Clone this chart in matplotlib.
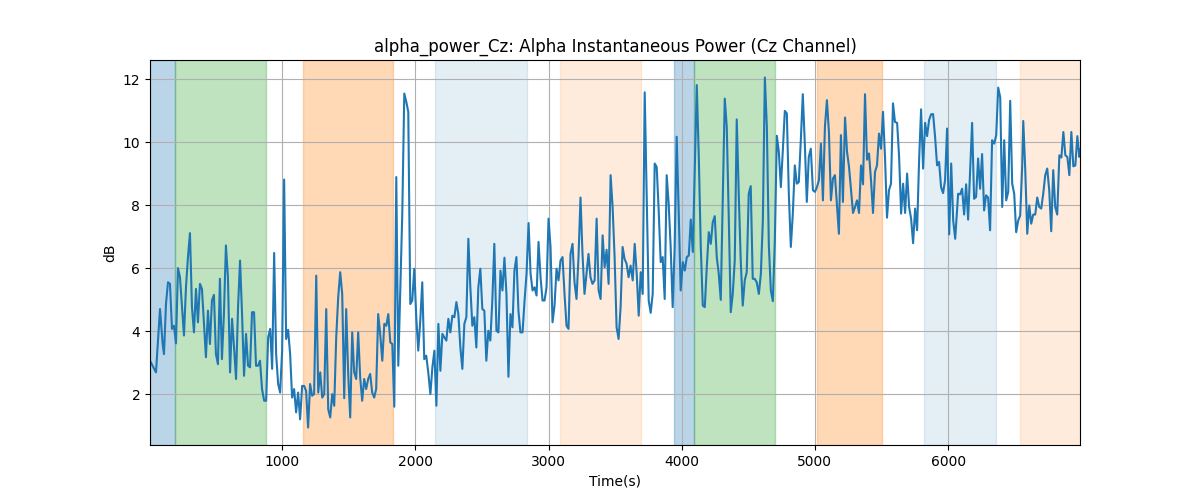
import matplotlib
matplotlib.use("Agg")
import matplotlib.pyplot as plt

#########################################################
# Data
#########################################################

t = [8, 53, 83, 103, 113, 128, 143, 158, 173, 188, 203, 218, 233, 248, 263, 278, 293, 308, 323, 338,
     353, 368, 383, 398, 413, 428, 443, 458, 473, 488, 503, 518, 533, 548, 563, 578, 593, 609, 624, 639,
     654, 669, 684, 699, 714, 729, 744, 759, 774, 789, 804, 819, 834, 849, 865,
     880, 895, 910, 925, 940, 955, 970, 985, 1000, 1015, 1030, 1045, 1060, 1075, 1090, 1105, 1120, 1135, 1150,
     1165, 1180, 1195, 1210, 1225, 1240, 1256, 1271, 1286, 1301, 1316, 1331, 1346, 1361, 1376, 1391, 1406,
     1421, 1436, 1451, 1466, 1481, 1496, 1511, 1526, 1541, 1556, 1571, 1586, 1601, 1616, 1631, 1646, 1661,
     1676, 1691, 1706, 1721, 1736,
     1752, 1767, 1782, 1797, 1812, 1827, 1842, 1857, 1872, 1887, 1902, 1917, 1932, 1947, 1962, 1977, 1992,
     2007, 2022, 2037, 2052, 2067, 2082, 2097, 2113, 2128, 2143, 2158, 2173, 2188, 2203, 2218, 2233, 2248,
     2263, 2278, 2293, 2308, 2323, 2338, 2353, 2368, 2383, 2398, 2413, 2428, 2443, 2458, 2473, 2488, 2503,
     2518, 2533, 2548, 2563, 2578, 2593,
     2609, 2624, 2639, 2654, 2669, 2684, 2699, 2714, 2729, 2744, 2759, 2774, 2789, 2805, 2820, 2835, 2850,
     2865, 2880, 2895, 2910, 2925, 2940, 2955, 2970, 2985, 3000, 3015, 3030, 3045, 3060, 3075, 3090, 3105,
     3120, 3135, 3150, 3165, 3180, 3195, 3210, 3225, 3240, 3255, 3270, 3285, 3300, 3315, 3330, 3346, 3361,
     3376, 3391, 3406, 3421, 3436, 3451,
     3466, 3481, 3496, 3511, 3526, 3541, 3556, 3571, 3586, 3601, 3616, 3632, 3647, 3662, 3677, 3692, 3707,
     3722, 3737, 3752, 3767, 3782, 3797, 3812, 3827, 3842, 3857, 3872, 3887, 3902, 3917, 3932, 3947, 3962,
     3977, 3992, 4008, 4023, 4038, 4053, 4068, 4083, 4098, 4113, 4128, 4143, 4158, 4173, 4188, 4203, 4218,
     4233, 4248, 4263, 4278, 4293, 4308, 4323, 4338, 4353,
     4368, 4383, 4398, 4413, 4428, 4443, 4458, 4473, 4488, 4503, 4518, 4533, 4548, 4563, 4579, 4594, 4609,
     4624, 4639, 4654, 4669, 4684, 4699, 4714, 4729, 4744, 4759, 4774, 4789, 4804, 4819, 4834, 4849, 4864,
     4879, 4894, 4909, 4924, 4939, 4954, 4969, 4985, 5000, 5015, 5030, 5045, 5060, 5075, 5090, 5105, 5120,
     5135, 5150, 5165, 5180,
     5195, 5210, 5226, 5241, 5256, 5271, 5286, 5301, 5316, 5331, 5346, 5361, 5376, 5391, 5406, 5421, 5436,
     5451, 5466, 5481, 5496, 5511, 5526, 5541, 5556, 5571, 5586, 5601, 5617, 5632, 5647, 5662, 5677, 5692,
     5707, 5722, 5737, 5752, 5767, 5782, 5797, 5812, 5827, 5842, 5857, 5872, 5887, 5902, 5917, 5932, 5947,
     5962, 5977, 5992, 6008, 6023, 6038, 6053,
     6075, 6090, 6105, 6120, 6135, 6150, 6165, 6180, 6195, 6210, 6225, 6240, 6255, 6270, 6285, 6300, 6315,
     6330, 6346, 6361, 6376, 6391, 6406, 6421, 6436, 6451, 6466, 6481, 6496, 6511, 6526, 6541, 6556, 6564,
     6579, 6594, 6609, 6624, 6639, 6654, 6669, 6684, 6699, 6714, 6729, 6744, 6759, 6774, 6789, 6804, 6819,
     6835, 6850, 6865, 6880, 6895, 6910, 6925, 6940, 6955, 6970, 6985, 6990]

db = [3.06, 2.69, 4.70, 3.59, 3.27, 4.86, 5.55, 5.50, 4.07, 4.17, 3.61, 6.00, 5.71, 4.76, 3.86, 5.39, 6.35, 7.11, 4.76, 3.96,
      5.34, 4.28, 5.50, 5.34, 4.23, 3.17, 4.65, 3.59, 4.97, 5.15, 3.27, 2.95, 5.66, 3.11, 4.54, 6.72, 5.71, 2.69, 4.39, 3.48,
      2.48, 4.76, 6.24, 4.54, 2.58, 3.91, 2.90, 2.85, 4.60, 4.60, 2.90, 2.90, 3.06, 2.16, 1.79,
      1.79, 3.80, 4.07, 2.80, 6.48, 3.27, 2.32, 2.05, 3.38, 8.81, 3.75, 4.04, 3.27, 1.89, 2.16, 1.42, 2.05, 1.20, 2.26,
      2.26, 2.10, 0.94, 2.32, 1.95, 2.00, 5.76, 2.05, 2.69, 1.89, 2.00, 4.70, 1.52, 1.26, 2.00, 1.63, 3.80,
      5.08, 5.87, 5.18, 1.87, 4.70, 2.64, 1.26, 3.96, 2.69, 2.48, 3.96, 2.53, 1.79, 2.48, 2.16, 2.48, 2.64,
      2.05, 1.89, 2.16, 4.54, 3.91,
      3.06, 4.23, 4.17, 4.54, 3.64, 3.59, 1.60, 8.89, 2.90, 5.29, 7.73, 11.54, 11.28, 10.96, 4.86, 4.97, 5.98,
      4.44, 3.38, 4.33, 5.55, 3.11, 3.22, 2.69, 2.00, 2.85, 3.38, 1.63, 4.23, 2.74, 3.91, 3.80, 3.70, 4.39,
      3.96, 4.49, 4.44, 4.92, 4.54, 3.48, 2.80, 4.23, 4.44, 6.93, 5.39, 4.17, 4.44, 3.48, 5.39, 5.98, 4.70,
      4.65, 3.06, 4.01, 3.70, 4.97, 6.77,
      4.01, 3.96, 5.92, 5.29, 6.33, 5.18, 2.55, 4.54, 4.12, 5.92, 6.35, 4.65, 3.96, 3.96, 4.97, 5.82, 7.43,
      5.82, 5.29, 5.39, 5.13, 6.83, 5.71, 4.97, 4.97, 5.39, 7.57, 6.67, 4.28, 4.81, 5.98, 5.61, 6.24, 6.35,
      5.18, 4.17, 4.07, 6.45, 6.77, 5.55, 5.02, 6.35, 8.24, 6.45, 5.18, 5.82, 6.45, 5.71, 5.50, 5.61, 7.57,
      5.29, 5.02, 7.04, 6.03, 6.58, 5.50,
      8.95, 7.94, 6.35, 4.12, 3.75, 4.76, 6.67, 6.29, 6.14, 5.71, 6.08, 5.61, 6.77, 5.82, 4.49, 5.87, 5.18,
      11.58, 8.36, 4.97, 4.58, 5.18, 9.32, 9.21, 7.83, 6.19, 6.35, 5.02, 8.95, 8.04, 6.67, 4.76, 6.67, 10.17,
      7.83, 5.29, 6.19, 5.92, 6.35, 6.40, 7.54, 6.51, 9.11, 11.81, 9.53, 6.67, 4.81, 4.76, 6.03, 7.14, 6.77,
      7.46, 7.65, 6.35, 5.82, 4.99, 8.15, 11.38, 10.48, 7.62,
      4.60, 5.18, 6.24, 10.72, 8.36, 6.24, 4.81, 5.61, 5.87, 8.36, 8.60, 5.66, 5.66, 5.55, 5.18, 5.82, 7.51,
      12.05, 10.48, 6.72, 5.29, 4.95, 6.88, 10.20, 9.69, 8.57, 9.74, 10.99, 10.91, 8.36, 6.67, 7.73, 9.26, 8.68,
      8.73, 10.06, 11.52, 9.95, 8.10, 9.53, 9.79, 8.47, 8.42, 8.57, 8.79, 9.95, 8.15, 10.48, 11.33, 10.32, 8.15,
      8.84, 8.95, 8.04, 7.09,
      10.22, 8.10, 10.78, 9.69, 9.21, 8.47, 7.75, 7.94, 8.15, 7.75, 9.26, 8.66, 11.52, 9.44, 9.64, 8.79, 7.75,
      9.05, 9.26, 10.27, 9.79, 10.96, 9.53, 7.60, 8.47, 8.68, 11.23, 10.64, 10.61, 9.53, 7.73, 8.68, 7.75, 9.00,
      7.94, 7.57, 6.79, 7.89, 7.20, 9.42, 11.04, 9.16, 10.61, 10.19, 10.70, 10.88, 10.89, 10.17, 9.26, 9.37, 8.57,
      8.38, 8.79, 10.43, 7.07, 9.32, 7.51, 6.93,
      8.36, 8.34, 8.52, 7.70, 8.66, 7.54, 9.11, 10.61, 8.20, 8.26, 9.48, 8.52, 9.62, 7.83, 8.31, 8.24, 7.20,
      10.06, 9.95, 10.22, 11.73, 11.42, 7.94, 10.06, 8.15, 8.42, 11.31, 8.68, 8.36, 7.14, 7.51, 7.67, 9.23, 10.67,
      9.11, 7.09, 7.99, 7.41, 7.70, 7.70, 8.24, 7.94, 7.89, 8.36, 8.95, 9.16, 8.47, 7.17, 9.11, 7.94, 7.70,
      9.58, 9.51, 10.32, 9.58, 9.53, 8.95, 10.32, 9.23, 9.26, 10.19, 9.53, 9.76]

# shaded intervals: (start, end, colour, alpha)
span_start = [8, 196, 1158, 2150, 3083, 3942, 4093, 5012, 5822, 6541]
span_end = [196, 877, 1832, 2840, 3697, 4093, 4699, 5501, 6361, 7000]
span_color = ['tab:blue', 'tab:green', 'tab:orange', 'tab:blue', 'tab:orange',
              'tab:blue', 'tab:green', 'tab:orange', 'tab:blue', 'tab:orange']
span_alpha = [0.3, 0.3, 0.3, 0.12, 0.15, 0.3, 0.3, 0.3, 0.12, 0.15]

#########################################################
# Plot
#########################################################

fig, ax = plt.subplots(figsize=(12, 5), dpi=100)

for s, e, c, a in zip(span_start, span_end, span_color, span_alpha):
    ax.axvspan(s, e, color=c, alpha=a)

ax.plot(t, db, color='tab:blue', linewidth=1.5)

ax.set_xlim(t[0], t[-1])
ax.set_title('alpha_power_Cz: Alpha Instantaneous Power (Cz Channel)')
ax.set_xlabel('Time(s)')
ax.set_ylabel('dB')
ax.grid(True)

fig.savefig('out.png')
